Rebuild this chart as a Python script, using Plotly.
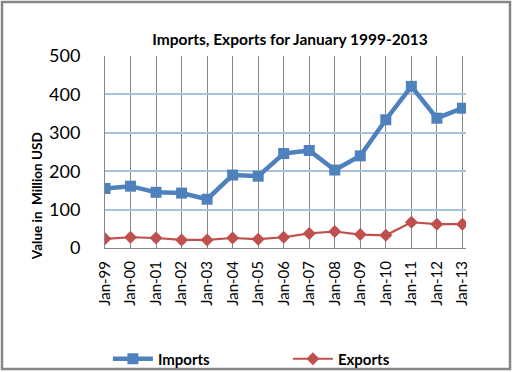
import plotly.graph_objects as go

categories = ["Jan-99", "Jan-00", "Jan-01", "Jan-02", "Jan-03", "Jan-04", "Jan-05",
              "Jan-06", "Jan-07", "Jan-08", "Jan-09", "Jan-10", "Jan-11", "Jan-12", "Jan-13"]
imports = [155, 161, 145, 143, 127, 190, 187, 246, 254, 203, 240, 334, 421, 338, 364]
exports = [24, 28, 26, 21, 21, 26, 23, 28, 38, 43, 35, 33, 67, 62, 62]
y_ticks = [0, 100, 200, 300, 400, 500]

FONT = "Lato"
idx = list(range(len(categories)))

fig = go.Figure()
fig.add_trace(go.Scatter(
    x=idx, y=imports, name="Imports", mode="lines+markers",
    line=dict(color="#4F81BD", width=4.5),
    marker=dict(symbol="square", size=11, color="#4F81BD"),
))
fig.add_trace(go.Scatter(
    x=idx, y=exports, name="Exports", mode="lines+markers",
    line=dict(color="#C0504D", width=2.2),
    marker=dict(symbol="diamond", size=10, color="#C0504D"),
))

fig.update_layout(
    width=514, height=372,
    margin=dict(l=105, r=48, t=56, b=124, autoexpand=False),
    paper_bgcolor="white", plot_bgcolor="white",
    font=dict(family=FONT, color="black"),
    showlegend=True,
    legend=dict(orientation="h", x=0.008, xanchor="left", y=(248 - 359) / 192, yanchor="middle",
                bgcolor="rgba(0,0,0,0)",
                font=dict(family=FONT, size=15, color="black", weight="bold"),
                itemwidth=40, entrywidth=125, traceorder="normal"),
    title=dict(text="<b>Imports, Exports for January 1999-2013</b>",
               x=290 / 514, xanchor="center", y=1 - 40 / 372, yanchor="middle",
               font=dict(family=FONT, size=15.5, color="black")),
    annotations=[dict(text="<b>Value in&nbsp; Million USD</b>", textangle=-90,
                      xref="paper", yref="paper", x=(37 - 105) / 361, y=0.27,
                      xanchor="center", yanchor="middle", showarrow=False,
                      font=dict(family=FONT, size=13.5, color="black"))],
    shapes=[dict(type="rect", xref="paper", yref="paper",
                 x0=(2 - 105) / 361, x1=(510 - 105) / 361,
                 y0=(248 - 369) / 192, y1=(248 - 2) / 192,
                 line=dict(color="#878787", width=2.5), layer="below")],
)
fig.update_xaxes(
    range=[0, 14.14], tickvals=idx, ticktext=categories, tickangle=-90,
    tickfont=dict(family=FONT, size=15, color="black"),
    showgrid=True, gridcolor="#878787", gridwidth=1,
    showline=True, linecolor="#878787", linewidth=1,
    zeroline=False, ticks="", ticklabelstandoff=6,
)
fig.update_yaxes(
    range=[0, 500], tickvals=y_ticks,
    tickfont=dict(family=FONT, size=18, color="black"),
    showgrid=True, gridcolor="#A9C0DF", gridwidth=1.5,
    showline=True, linecolor="#878787", linewidth=1,
    zeroline=False, ticks="", ticklabelstandoff=20,
)

fig.write_html("out.html", config={"displayModeBar": False},
               post_script="document.body.style.margin='0';document.body.style.overflow='hidden';")
